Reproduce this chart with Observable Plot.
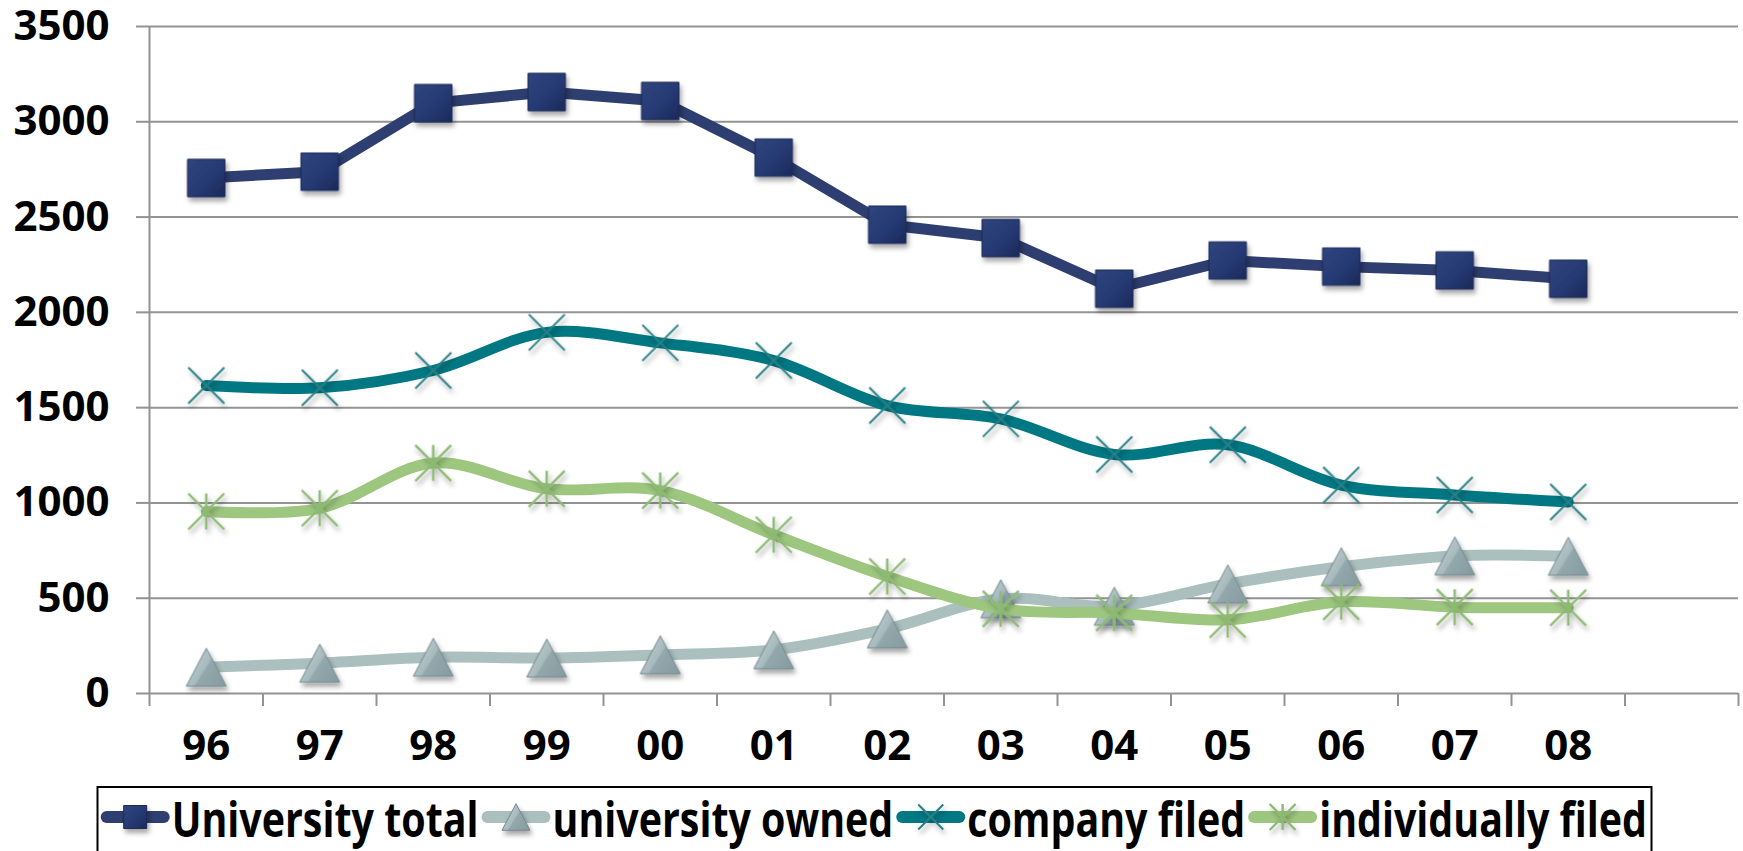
<!DOCTYPE html>
<html>
<head>
<meta charset="utf-8">
<script src="https://cdn.jsdelivr.net/npm/d3@7"></script>
<script src="https://cdn.jsdelivr.net/npm/@observablehq/plot@0.6"></script>
<style>
  html, body { margin: 0; padding: 0; background: #fff; }
  #chart { position: relative; width: 1743px; height: 851px; overflow: hidden; background: #fff; }
  #chart svg { display: block; }
  #chart svg text { font-family: "Open Sans", "DejaVu Sans", sans-serif; font-weight: 700; }
</style>
</head>
<body>
<div id="chart"></div>
<script>
// Patent filings by year, 1996–2008
const years = ["96", "97", "98", "99", "00", "01", "02", "03", "04", "05", "06", "07", "08"];
const universityTotal   = [2705, 2738, 3098, 3156, 3109, 2812, 2460, 2390, 2124, 2272, 2240, 2220, 2176];
const universityOwned   = [138, 159, 190, 186, 203, 229, 339, 497, 458, 575, 665, 722, 720];
const companyFiled      = [1616, 1604, 1695, 1895, 1840, 1747, 1511, 1441, 1254, 1305, 1094, 1042, 1005];
const individuallyFiled = [955, 972, 1209, 1074, 1065, 833, 614, 444, 423, 387, 481, 453, 450];
const seriesNames = ["University total", "university owned", "company filed", "individually filed"];
const yTicks = [0, 500, 1000, 1500, 2000, 2500, 3000, 3500];

// Long-format table: each year sits in the middle of its slot (one spare slot at the end)
const seriesValues = [universityTotal, universityOwned, companyFiled, individuallyFiled];
const rows = seriesNames.flatMap((name, k) =>
  years.map((yr, i) => ({series: name, year: yr, pos: i + 0.5, value: seriesValues[k][i]}))
);
const slots = years.length + 1;

// Marker shapes, sized by r (half of the marker's extent)
const rOf = size => Math.sqrt(size / Math.PI);
const symSquare = {draw(c, size) { const r = rOf(size); c.rect(-r, -r, 2 * r, 2 * r); }};
const symTriangle = {draw(c, size) { const r = rOf(size); c.moveTo(0, -r * 0.95); c.lineTo(r, r * 0.95); c.lineTo(-r, r * 0.95); c.closePath(); }};
const symTimes = {draw(c, size) { const r = rOf(size); c.moveTo(-r, -r); c.lineTo(r, r); c.moveTo(r, -r); c.lineTo(-r, r); }};
const symStar = {draw(c, size) { const r = rOf(size); c.moveTo(-r, -r); c.lineTo(r, r); c.moveTo(r, -r); c.lineTo(-r, r); c.moveTo(0, -r); c.lineTo(0, r); }};

const styles = [
  {line: "#2e3e70", curve: "linear",      symbol: symSquare,   r: 18.7, fill: "#263a73", stroke: "#1c2a58", sw: 1},
  {line: "#abbfbf", curve: "catmull-rom", symbol: symTriangle, r: 20,   fill: "#a3b6ba", stroke: "#74898d", sw: 1},
  {line: "#007883", curve: "catmull-rom", symbol: symTimes,    r: 18,   fill: "none",    stroke: "#2a7f86", sw: 2},
  {line: "#9dc67f", curve: "catmull-rom", symbol: symStar,     r: 18,   fill: "none",    stroke: "#8cba73", sw: 2.4}
];

const gridColor = "#939393";

const seriesMarks = seriesNames.flatMap((name, k) => {
  const s = styles[k];
  const data = rows.filter(d => d.series === name);
  return [
    Plot.line(data, {x: "pos", y: "value", stroke: s.line, strokeWidth: 11, curve: s.curve,
                     strokeLinejoin: "round", strokeLinecap: "round"}),
    Plot.dot(data, {x: "pos", y: "value", symbol: s.symbol, r: s.r, fill: s.fill,
                    stroke: s.stroke, strokeWidth: s.sw})
  ];
});

const svg = Plot.plot({
  width: 1743,
  height: 785,
  marginLeft: 149,
  marginRight: 5,
  marginTop: 26,
  marginBottom: 92,
  style: {background: "#fff", color: "#000", fontFamily: "'Open Sans', sans-serif", fontWeight: 700},
  x: {domain: [0, slots]},
  y: {domain: [0, 3500]},
  marks: [
    Plot.gridY(yTicks, {stroke: gridColor, strokeOpacity: 1, strokeWidth: 2}),
    Plot.ruleX([0], {y1: 0, y2: 3500, stroke: gridColor, strokeWidth: 2}),
    Plot.axisY(yTicks, {tickSize: 13, tickPadding: 27, stroke: gridColor, strokeWidth: 2,
                        tickFormat: d => String(d),
                        fill: "#000", fontSize: 42, fontWeight: 700, label: null}),
    Plot.axisX(d3.range(slots + 1), {tickSize: 13, tickFormat: () => "", stroke: gridColor,
                                     strokeWidth: 2, label: null}),
    Plot.axisX(years.map((d, i) => i + 0.5), {tickSize: 0, tickPadding: 37,
                                              tickFormat: d => years[Math.floor(d)],
                                              fill: "#000", fontSize: 42, fontWeight: 700, label: null}),
    ...seriesMarks
  ]
});

// Shared paint definitions: marker gradients and a soft drop shadow
function addDefs(target, prefix) {
  const defs = d3.select(target).insert("defs", ":first-child");
  const sq = defs.append("linearGradient").attr("id", prefix + "sq")
    .attr("x1", 0).attr("y1", 0).attr("x2", 1).attr("y2", 1);
  sq.append("stop").attr("offset", 0).attr("stop-color", "#30457f");
  sq.append("stop").attr("offset", 0.55).attr("stop-color", "#263a73");
  sq.append("stop").attr("offset", 1).attr("stop-color", "#1b2a5a");
  const tri = defs.append("linearGradient").attr("id", prefix + "tri")
    .attr("x1", 0).attr("y1", 0.2).attr("x2", 1).attr("y2", 0.8);
  tri.append("stop").attr("offset", 0).attr("stop-color", "#c3d2d5");
  tri.append("stop").attr("offset", 0.48).attr("stop-color", "#a7babe");
  tri.append("stop").attr("offset", 0.52).attr("stop-color", "#93a8ac");
  tri.append("stop").attr("offset", 1).attr("stop-color", "#879da1");
  const f = defs.append("filter").attr("id", prefix + "shadow")
    .attr("x", "-50%").attr("y", "-50%").attr("width", "200%").attr("height", "200%");
  f.append("feDropShadow").attr("dx", 2).attr("dy", 4).attr("stdDeviation", 2.5)
    .attr("flood-color", "#000").attr("flood-opacity", 0.35);
}
addDefs(svg, "p-");
const dotGroups = svg.querySelectorAll('g[aria-label="dot"]');
dotGroups.forEach(g => g.setAttribute("filter", "url(#p-shadow)"));
if (dotGroups[0]) dotGroups[0].setAttribute("fill", "url(#p-sq)");
if (dotGroups[1]) dotGroups[1].setAttribute("fill", "url(#p-tri)");

const chart = document.getElementById("chart");
chart.appendChild(svg);

// Legend strip below the plot
const legendH = 66;
const legend = d3.select(chart).append("svg").attr("width", 1743).attr("height", legendH);
addDefs(legend.node(), "l-");
legend.append("rect").attr("x", 97.5).attr("y", 2).attr("width", 1554).attr("height", 120)
  .attr("fill", "#fff").attr("stroke", "#000").attr("stroke-width", 2);

const swatchLen = 67, gapIn = 3, gapOut = 4, startX = 101.7, endX = 1647;
const midY = 32, baseY = 51.7, legendFont = 49;
const texts = seriesNames.map(name =>
  legend.append("text").attr("y", baseY).attr("font-size", legendFont).attr("fill", "#000").text(name)
);
const natural = texts.map(t => t.node().getComputedTextLength());
const room = endX - startX - seriesNames.length * (swatchLen + gapIn) - (seriesNames.length - 1) * gapOut;
const squeeze = room / d3.sum(natural);

const legendFills = ["url(#l-sq)", "url(#l-tri)", "none", "none"];
const legendR = [11.5, 14, 12.5, 13];
let cx = startX;
seriesNames.forEach((name, k) => {
  const s = styles[k];
  legend.append("line").attr("x1", cx + 5).attr("x2", cx + swatchLen - 5).attr("y1", midY).attr("y2", midY)
    .attr("stroke", s.line).attr("stroke-width", 12).attr("stroke-linecap", "round");
  legend.append("path")
    .attr("transform", `translate(${cx + swatchLen / 2},${midY})`)
    .attr("d", d3.symbol(s.symbol, Math.PI * legendR[k] * legendR[k])())
    .attr("fill", legendFills[k]).attr("stroke", s.stroke).attr("stroke-width", s.sw)
    .attr("filter", "url(#l-shadow)");
  const w = natural[k] * squeeze;
  texts[k].attr("x", cx + swatchLen + gapIn).attr("textLength", w).attr("lengthAdjust", "spacingAndGlyphs");
  texts[k].raise();
  cx += swatchLen + gapIn + w + gapOut;
});
</script>
</body>
</html>
